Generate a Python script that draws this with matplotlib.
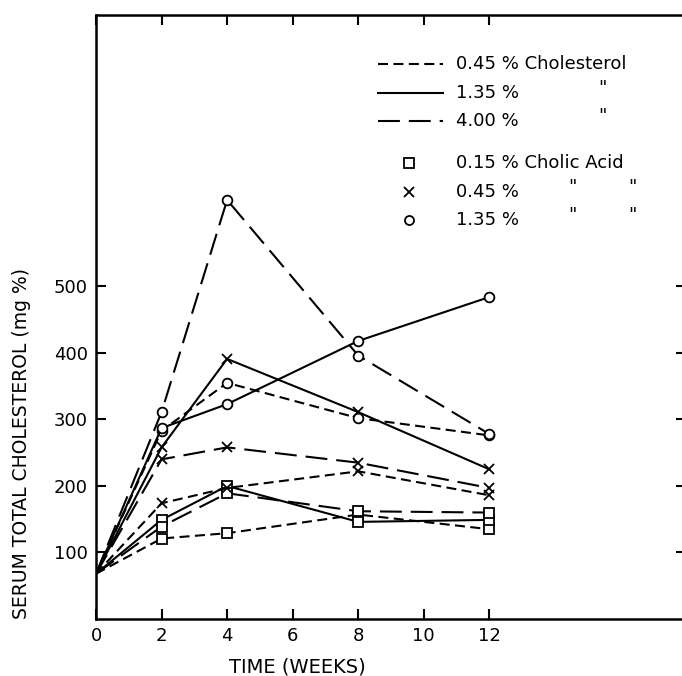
import matplotlib
matplotlib.use('Agg')
import matplotlib.pyplot as plt
from matplotlib.lines import Line2D

plt.rcParams['font.family'] = ['DejaVu Sans']

# weeks on the diet
weeks = [0, 2, 4, 8, 12]

# serum total cholesterol (mg %), one list per diet
# cholesterol 0.45 % (short dash), 1.35 % (solid), 4.00 % (long dash)
# cholic acid 0.15 % (square), 0.45 % (x), 1.35 % (circle)
c045_ca015 = [68, 121, 129, 157, 135]
c135_ca015 = [68, 149, 200, 146, 149]
c400_ca015 = [68, 139, 189, 162, 160]
c045_ca045 = [68, 174, 197, 222, 186]
c135_ca045 = [68, 258, 391, 311, 225]
c400_ca045 = [68, 240, 258, 235, 197]
c045_ca135 = [68, 283, 355, 302, 276]
c135_ca135 = [68, 287, 323, 418, 484]
c400_ca135 = [68, 311, 630, 396, 278]

xticks = [0, 2, 4, 6, 8, 10, 12]
yticks = [100, 200, 300, 400, 500]

short = (0, (4.8, 2.6))
solid = '-'
longd = (0, (10.5, 4.3))

W, H = 682, 676
fig = plt.figure(figsize=(W / 100, H / 100), dpi=100)
ax = fig.add_axes([96 / W, (H - 619) / H, 590 / W, 604 / H])

series = [
    (c045_ca015, short, 's'), (c135_ca015, solid, 's'), (c400_ca015, longd, 's'),
    (c045_ca045, short, 'x'), (c135_ca045, solid, 'x'), (c400_ca045, longd, 'x'),
    (c045_ca135, short, 'o'), (c135_ca135, solid, 'o'), (c400_ca135, longd, 'o'),
]
for vals, ls, mk in series:
    ms = 7 if mk == 'o' else 6.5
    ax.plot(weeks, vals, color='black', linestyle=ls, linewidth=1.5,
            marker=mk, markersize=ms, markerfacecolor='white',
            markeredgecolor='black', markeredgewidth=1.3,
            markevery=[1, 2, 3, 4])

ax.set_xlim(0, 18)
ax.set_ylim(0, 908)
ax.set_xticks(xticks)
ax.set_yticks(yticks)
ax.tick_params(direction='in', length=7, width=1.5, labelsize=13,
               top=True, right=True, pad=6)
for s in ax.spines.values():
    s.set_linewidth(1.8)

ax.set_xlabel('TIME (WEEKS)', fontsize=14)
ax.xaxis.set_label_coords(0.342, -0.063)
ax.set_ylabel('SERUM TOTAL CHOLESTEROL (mg %)', fontsize=13.5)
ax.yaxis.set_label_coords(-0.11, 0.29)

# legend drawn by hand (ditto marks as in the original)
def fx(px):
    return px / W

def fy(py):
    return 1 - py / H

kw = dict(fontsize=13, va='center', ha='left', transform=fig.transFigure)
for py, ls, label, dittos in [(64, short, '0.45 % Cholesterol', []),
                              (93, solid, '1.35 %', [598]),
                              (121, longd, '4.00 %', [598])]:
    fig.add_artist(Line2D([fx(378), fx(443)], [fy(py), fy(py)],
                          color='black', linestyle=ls, linewidth=1.5,
                          transform=fig.transFigure))
    fig.text(fx(456), fy(py), label, **kw)
    for dx in dittos:
        fig.text(fx(dx), fy(py - 5), '"', **kw)

for py, mk, label, dittos in [(163, 's', '0.15 % Cholic Acid', []),
                              (192, 'x', '0.45 %', [568, 628]),
                              (220, 'o', '1.35 %', [568, 628])]:
    fig.add_artist(Line2D([fx(409)], [fy(py)], marker=mk, markersize=6.5,
                          markerfacecolor='white', markeredgecolor='black',
                          markeredgewidth=1.3, linestyle='none',
                          transform=fig.transFigure))
    fig.text(fx(456), fy(py), label, **kw)
    for dx in dittos:
        fig.text(fx(dx), fy(py - 5), '"', **kw)

fig.savefig('out.png', dpi=100)
